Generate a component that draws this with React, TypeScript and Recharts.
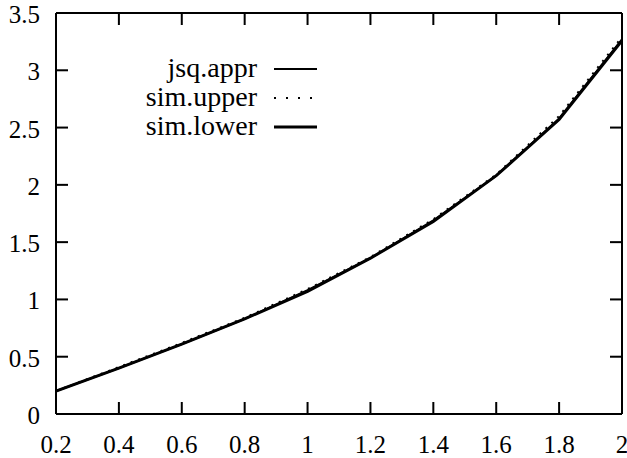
import { LineChart, Line, XAxis, YAxis } from "recharts"

const xValues = [0.2, 0.4, 0.6, 0.8, 1.0, 1.2, 1.4, 1.6, 1.8, 2.0]
const jsqAppr = [0.2, 0.4, 0.61, 0.83, 1.08, 1.36, 1.69, 2.08, 2.58, 3.27]
const simUpper = [0.2, 0.41, 0.62, 0.84, 1.09, 1.37, 1.7, 2.09, 2.6, 3.29]
const simLower = [0.2, 0.4, 0.61, 0.83, 1.07, 1.36, 1.68, 2.08, 2.57, 3.26]

const xTicks = [0.2, 0.4, 0.6, 0.8, 1, 1.2, 1.4, 1.6, 1.8, 2]
const yTicks = [0, 0.5, 1, 1.5, 2, 2.5, 3, 3.5]

const seriesNames = ["jsq.appr", "sim.upper", "sim.lower"]

const data = xValues.map((x, i) => ({
  x,
  jsq: jsqAppr[i],
  upper: simUpper[i],
  lower: simLower[i],
}))

const FONT = "'Liberation Serif', 'Times New Roman', serif"
const TICK_LEN = 12
const frame = { stroke: "#000", strokeWidth: 2 }

// tick marks point into the plot (gnuplot style), drawn as thin rects
function BottomTick(props: any) {
  const { x, y, payload } = props
  return (
    <g>
      <rect x={x - 1} y={y - TICK_LEN} width={2} height={TICK_LEN} fill="#000" />
      <text x={x} y={y + 39} textAnchor="middle" fontFamily={FONT} fontSize={25} fill="#000">
        {String(payload.value)}
      </text>
    </g>
  )
}

function TopTick(props: any) {
  const { x, y } = props
  return <rect x={x - 1} y={y} width={2} height={TICK_LEN} fill="#000" />
}

function LeftTick(props: any) {
  const { x, y, payload } = props
  return (
    <g>
      <rect x={x} y={y - 1} width={TICK_LEN} height={2} fill="#000" />
      <text x={x - 16} y={y + 10} textAnchor="end" fontFamily={FONT} fontSize={25} fill="#000">
        {String(payload.value)}
      </text>
    </g>
  )
}

function RightTick(props: any) {
  const { x, y } = props
  return <rect x={x - TICK_LEN} y={y - 1} width={TICK_LEN} height={2} fill="#000" />
}

function KeyBox() {
  const rows = [
    { name: seriesNames[0], width: 2, dash: undefined },
    { name: seriesNames[1], width: 2, dash: "2 10" },
    { name: seriesNames[2], width: 3, dash: undefined },
  ]
  return (
    <svg
      width={627}
      height={458}
      style={{ position: "absolute", left: 0, top: 0, pointerEvents: "none" }}
    >
      {rows.map((r, i) => {
        const cy = 69 + i * 29
        return (
          <g key={r.name}>
            <text x={257} y={cy + 8} textAnchor="end" fontFamily={FONT} fontSize={28} fill="#000">
              {r.name}
            </text>
            <path d={`M274 ${cy} H317`} stroke="#000" strokeWidth={r.width} strokeDasharray={r.dash} />
          </g>
        )
      })}
    </svg>
  )
}

export default function App() {
  return (
    <div style={{ position: "absolute", left: 0, top: 0, width: 627, height: 458, background: "#fff" }}>
      <LineChart width={627} height={458} data={data} margin={{ top: 12, right: 4, left: 0, bottom: 0 }}>
        <XAxis
          xAxisId="b"
          dataKey="x"
          type="number"
          domain={[0.2, 2]}
          ticks={xTicks}
          allowDataOverflow
          orientation="bottom"
          height={44}
          tickSize={0}
          tickMargin={0}
          tickLine={false}
          axisLine={frame}
          tick={<BottomTick />}
          interval={0}
        />
        <XAxis
          xAxisId="t"
          dataKey="x"
          type="number"
          domain={[0.2, 2]}
          ticks={xTicks}
          allowDataOverflow
          orientation="top"
          height={1}
          tickSize={0}
          tickMargin={0}
          tickLine={false}
          axisLine={frame}
          tick={<TopTick />}
          interval={0}
        />
        <YAxis
          yAxisId="l"
          type="number"
          domain={[0, 3.5]}
          ticks={yTicks}
          allowDataOverflow
          orientation="left"
          width={56}
          tickSize={0}
          tickMargin={0}
          tickLine={false}
          axisLine={frame}
          tick={<LeftTick />}
          interval={0}
        />
        <YAxis
          yAxisId="r"
          type="number"
          domain={[0, 3.5]}
          ticks={yTicks}
          allowDataOverflow
          orientation="right"
          width={1}
          tickSize={0}
          tickMargin={0}
          tickLine={false}
          axisLine={frame}
          tick={<RightTick />}
          interval={0}
        />
        <Line
          xAxisId="b"
          yAxisId="l"
          type="linear"
          dataKey="lower"
          name={seriesNames[2]}
          stroke="#000"
          strokeWidth={3}
          dot={false}
          isAnimationActive={false}
        />
        <Line
          xAxisId="b"
          yAxisId="l"
          type="linear"
          dataKey="jsq"
          name={seriesNames[0]}
          stroke="#000"
          strokeWidth={2}
          dot={false}
          isAnimationActive={false}
        />
        <Line
          xAxisId="t"
          yAxisId="r"
          type="linear"
          dataKey="upper"
          name={seriesNames[1]}
          stroke="#000"
          strokeWidth={2}
          strokeDasharray="2 6"
          dot={false}
          isAnimationActive={false}
        />
      </LineChart>
      <KeyBox />
    </div>
  )
}
